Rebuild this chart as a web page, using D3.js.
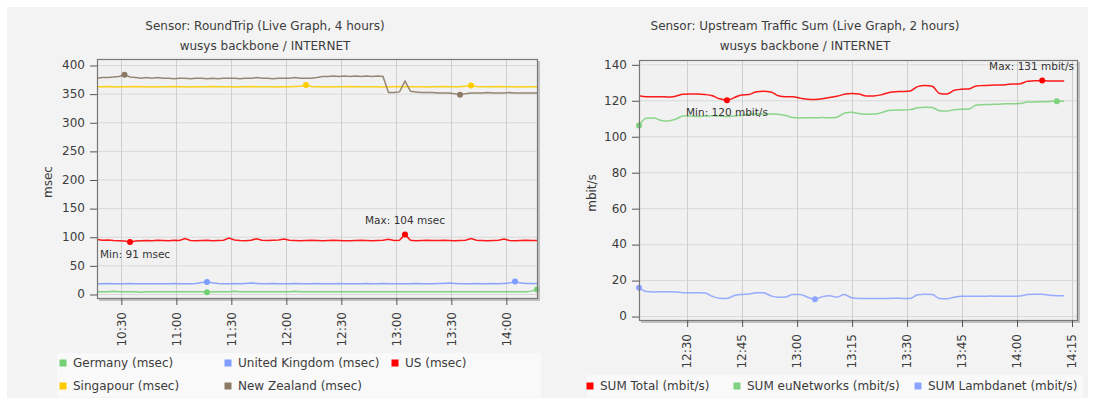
<!DOCTYPE html>
<html><head><meta charset="utf-8">
<script src="https://cdn.jsdelivr.net/npm/d3@7/dist/d3.min.js"></script>
<style>
body{margin:0;background:#fff;}
svg{display:block;font-family:"DejaVu Sans",sans-serif;}
</style>
</head><body>
<svg id="c" width="1093" height="403"></svg>
<script>
// ---------------- Left chart data (RoundTrip, 3-minute samples from 10:17) ----------------
const rtStart = "10:17";
const rtStepMin = 3;
const rtDomain = ["10:17", "14:17"];
const rtXTicks = ["10:30","11:00","11:30","12:00","12:30","13:00","13:30","14:00"];
const rtYTicks = [0,50,100,150,200,250,300,350,400];
const rtNames = ["Germany (msec)","United Kingdom (msec)","US (msec)","Singapour (msec)","New Zealand (msec)"];
const rtColors = ["#74d074","#7f9cff","#ff0000","#ffcc00","#8c7a66"];
const rtGermany = [4,4,4,5,4,4,4,4,3,4,4,4,4,4,4,4,4,4,4,4,3,4,4,4,4,5,4,4,4,4,4,4,4,4,4,4,5,4,4,4,4,4,4,4,4,4,4,4,4,4,4,4,4,4,4,4,4,4,4,4,4,4,4,4,4,4,4,4,4,4,4,4,4,4,4,4,4,4,4,5,8];
const rtUK = [18,18,18.5,18,18,18,18.5,18,18,18,18,18,18,18,18.5,18,18,18,18.5,20,21,19.5,18.5,18,18,18.5,18,18.5,19,18.5,18,18,18.5,18,18,18,18.5,18,18,18,18.5,18,18,18,18.5,18,18,18,18,18.5,18,18,18.5,18,18,18,18,18,18.5,18,18,18,18.5,18.5,19,18.5,18,18,18,18.5,18,18,18.5,18,18.5,19,22,19,18.5,18.5,18.5];
const rtUS = [95,94,94.5,93.5,93,92.5,91,92.5,93,93.5,93,94,93.5,93,94,93.5,96.8,93.5,93,93.5,94,93,93.5,94,97.8,94.5,93.5,93,94,96.5,94,93.5,94,94.5,96,94,93.5,93,93.5,94,93.5,93,93.5,94,93.5,93,93,93.5,94,93.5,93,93.5,94,95.5,93.5,94,104,94,93,93.5,94,93.5,93.5,94,93.5,93,93.5,94,97,94,93.5,93,93.5,94,96,93.5,93,93.5,94,93.5,93.5];
const rtSingapour = [362,362,362.5,362,361.5,362,362,362.5,362,362,361.5,362,362,362,362.5,362,362,361.5,362,362,362,362.5,362,362,362,361.5,362,362,362.5,362,362,362,362,361.5,362,362,362.5,363,365,362.5,362,362,361.5,362,362,362,362.5,362,362,362,362,362,361.5,362,362,362.5,362,362,362,362,361.5,362,362,362.5,362,362,362,363,364,362.5,362,362,362,362.5,362,362,362,361.5,362,362,362];
const rtNZ = [377,378,378,379,380,383,379,378,377,378,377,378,377,377,376,377,377,376,377,377,376,377,376,377,377,377,376,377,377,378,377,377,376,377,377,377,378,377,377,377,378,380,380,381,380,381,380,381,380,381,380,381,380,352,352,353,372,354,353,352,352,352,351,351,351,350,348,350,351,351,351,352,351,351,351,352,351,351,351,351,351];
const rtMarkers = [[20,80],[20,76],[6,56],[38,68],[5,66]];
const rtLabels = [{s:2,i:6,text:"Min: 91 msec",pos:"below"},{s:2,i:56,text:"Max: 104 msec",pos:"above"}];

// ---------------- Right chart data (Upstream Traffic Sum, 2-minute samples from 12:17) ----------------
const utStart = "12:17";
const utStepMin = 2;
const utDomain = ["12:17:00","14:16:30"];
const utXTicks = ["12:30","12:45","13:00","13:15","13:30","13:45","14:00","14:15"];
const utYTicks = [0,20,40,60,80,100,120,140];
const utNames = ["SUM Total (mbit/s)","SUM euNetworks (mbit/s)","SUM Lambdanet (mbit/s)"];
const utColors = ["#ff0000","#7fd27f","#8ca4ff"];
const utTotal = [122.5,122,122,122,121.8,122.3,123.3,123.5,123.5,123.2,122.5,120.8,120,121.5,123,123.2,124.8,125,124.6,122.5,122,122,121.2,120.6,120.5,120.8,121.6,122.2,123.3,123.8,123.5,122.4,122.4,123,124.2,124.8,124.9,125.2,127.6,128.2,127.8,123.8,123.5,125.6,126.2,126.3,128,128.2,128.4,128.5,128.7,129,129.2,130.6,130.8,131,130.7,130.7,130.7];
const utEuNetworks = [106,110,110.2,108.8,108.5,109.5,111.2,111.3,111,111.2,111.4,111.2,111,111.3,111.6,112.3,112.4,112.3,112.4,112.2,111.5,110.4,110.2,110.3,110.3,110.4,110.3,110.6,112.8,113.3,112.6,112.2,112.3,113,114.3,114.6,114.6,114.8,115.8,116.1,116,114.2,114,114.7,115,115.1,117.4,117.6,117.7,117.8,118,118.1,118.2,119,119.1,119.2,119.3,119.5,119.4];
const utLambdanet = [15.8,13.6,13.4,13.5,13.5,13.4,13,12.9,12.9,12.8,11,9.9,9.8,11.4,12,12.3,12.9,12.9,11.2,10.4,10.6,12,12,10.5,9.3,10.8,11.3,10.5,12,10.2,9.8,9.8,9.8,9.8,9.8,9.9,9.8,9.8,11.8,12.1,12,9.7,9.6,10.5,11,11,11,11,11.1,11,11,11,11.1,12,12.1,12.1,11.5,11.3,11.3];
const utMarkers = [[12,55],[0,57],[0,24]];
const utLabels = [{s:0,i:12,text:"Min: 120 mbit/s",pos:"below"},{s:0,i:55,text:"Max: 131 mbit/s",pos:"above"}];

// ---------------- Drawing ----------------
const svg = d3.select("#c");
const TEXT = "#3c3c3c";
svg.append("rect").attr("x",7).attr("y",7).attr("width",1081).attr("height",391).attr("fill","#f3f3f3");

const pHM = d3.timeParse("%H:%M");
const pHMS = d3.timeParse("%H:%M:%S");

function drawChart(cfg){
  const g = svg.append("g");
  const {left, right, top, bottom} = cfg.plot;
  const x = d3.scaleTime().domain(cfg.domain).range([left, right]);
  const y = d3.scaleLinear().domain(cfg.yDomain).range([bottom, top]);
  const start = pHM(cfg.start);
  const timeAt = i => d3.timeMinute.offset(start, i*cfg.step);

  // titles
  g.append("text").attr("x",cfg.titleX).attr("y",30).attr("text-anchor","middle")
    .attr("font-size",12).attr("fill",TEXT).text(cfg.title1);
  g.append("text").attr("x",cfg.titleX).attr("y",50).attr("text-anchor","middle")
    .attr("font-size",12).attr("fill",TEXT).text(cfg.title2);

  // plot background
  g.append("rect").attr("x",left).attr("y",top).attr("width",right-left).attr("height",bottom-top).attr("fill","#f1f1f1");

  // grid
  g.selectAll(".hg").data(cfg.yTicks).join("line")
    .attr("x1",left).attr("x2",right).attr("y1",d=>y(d)+0.5).attr("y2",d=>y(d)+0.5)
    .attr("stroke","#d9d9d9").attr("stroke-width",1);
  g.selectAll(".vg").data(cfg.xTicks).join("line")
    .attr("x1",d=>Math.round(x(d))+0.5).attr("x2",d=>Math.round(x(d))+0.5).attr("y1",top).attr("y2",bottom)
    .attr("stroke","#cfcfcf").attr("stroke-width",1);

  // lines
  const clipId = "clip"+cfg.id;
  svg.append("clipPath").attr("id",clipId).append("rect").attr("x",left).attr("y",top).attr("width",right-left).attr("height",bottom-top);
  const lg = g.append("g").attr("clip-path",`url(#${clipId})`);
  cfg.series.forEach((vals, s) => {
    const line = d3.line().x((d,i)=>x(timeAt(i))).y(d=>y(d)).curve(cfg.curve);
    lg.append("path").datum(vals).attr("fill","none").attr("stroke",cfg.colors[s])
      .attr("stroke-width",1.5).attr("stroke-opacity",0.9).attr("d",line);
  });
  // markers
  cfg.series.forEach((vals, s) => {
    cfg.markers[s].forEach(i => {
      g.append("circle").attr("cx",x(timeAt(i))).attr("cy",y(vals[i])).attr("r",3)
        .attr("fill",cfg.colors[s]);
    });
  });
  // min/max labels
  cfg.labels.forEach(l => {
    const mx = x(timeAt(l.i)), my = y(cfg.series[l.s][l.i]);
    const t = g.append("text").attr("font-size",10.5).attr("fill","#333").text(l.text)
      .attr("y", l.pos==="above" ? my-10 : my+16);
    const w = t.node().getComputedTextLength();
    let tx = mx - w/2;
    tx = Math.max(left+3, Math.min(right-3-w, tx));
    t.attr("x",tx);
  });

  // frame
  g.append("rect").attr("x",left+0.5).attr("y",top+0.5).attr("width",right-left).attr("height",bottom-top)
    .attr("fill","none").attr("stroke","#777").attr("stroke-width",1.2);
  g.append("path").attr("d",`M${right+2},${top+2}V${bottom+2}H${left+2}`)
    .attr("fill","none").attr("stroke","#b0b0b0").attr("stroke-width",1.5);

  // y axis
  const ya = g.append("g").attr("transform",`translate(${left},0)`)
    .call(d3.axisLeft(y).tickValues(cfg.yTicks).tickSize(7).tickPadding(5));
  ya.select(".domain").remove();
  ya.selectAll("line").attr("stroke","#555").attr("transform","translate(0,0.5)");
  ya.selectAll("text").attr("font-size",12).attr("fill",TEXT).attr("font-family","DejaVu Sans");

  // x axis
  const xa = g.append("g").attr("transform",`translate(0,${bottom})`)
    .call(d3.axisBottom(x).tickValues(cfg.xTicks).tickSize(7).tickFormat(d3.timeFormat("%H:%M")));
  xa.select(".domain").remove();
  xa.selectAll("line").attr("stroke","#555").attr("transform","translate(0.5,0)");
  xa.selectAll("text").attr("font-size",12).attr("fill",TEXT).attr("font-family","DejaVu Sans")
    .attr("text-anchor","end").attr("transform","rotate(-90)")
    .attr("x",-14).attr("y",0).attr("dy","0.35em");

  // y label
  g.append("text").attr("transform",`translate(${cfg.yLabelX},${cfg.yLabelY}) rotate(-90)`)
    .attr("text-anchor","middle").attr("dy","0.35em").attr("font-size",12).attr("fill",TEXT).text(cfg.yLabel);

  // legend
  const L = cfg.legend;
  g.append("rect").attr("x",L.x).attr("y",L.y).attr("width",L.w).attr("height",L.h).attr("fill","#f9f9f9");
  cfg.names.forEach((n, s) => {
    const [lx, ly] = L.pos[s];
    g.append("rect").attr("x",lx-3.5).attr("y",ly-3.5).attr("width",7).attr("height",7).attr("fill",cfg.colors[s]);
    g.append("text").attr("x",lx+10).attr("y",ly).attr("dy","0.35em").attr("font-size",12).attr("fill",TEXT).text(n);
  });
}

drawChart({
  id:"rt",
  title1:"Sensor: RoundTrip (Live Graph, 4 hours)", title2:"wusys backbone / INTERNET", titleX:265,
  plot:{left:97,right:537,top:59,bottom:298},
  domain:rtDomain.map(pHM), yDomain:[-7,410.5],
  xTicks:rtXTicks.map(pHM), yTicks:rtYTicks,
  start:rtStart, step:rtStepMin,
  series:[rtGermany,rtUK,rtUS,rtSingapour,rtNZ], colors:rtColors, names:rtNames,
  markers:rtMarkers, labels:rtLabels, curve:d3.curveLinear,
  yLabel:"msec", yLabelX:48, yLabelY:182,
  legend:{x:57,y:353,w:484,h:44,pos:[[63,363],[228,363],[395,363],[63,386],[228,386]]}
});

drawChart({
  id:"ut",
  title1:"Sensor: Upstream Traffic Sum (Live Graph, 2 hours)", title2:"wusys backbone / INTERNET", titleX:805,
  plot:{left:639,right:1077,top:60,bottom:320},
  domain:utDomain.map(pHMS), yDomain:[-2.2,142.4],
  xTicks:utXTicks.map(pHM), yTicks:utYTicks,
  start:utStart, step:utStepMin,
  series:[utTotal,utEuNetworks,utLambdanet], colors:utColors, names:utNames,
  markers:utMarkers, labels:utLabels, curve:d3.curveMonotoneX,
  yLabel:"mbit/s", yLabelX:592, yLabelY:193,
  legend:{x:587,y:375,w:496,h:22,pos:[[590,386],[737,386],[918,386]]}
});
</script>
</body></html>
